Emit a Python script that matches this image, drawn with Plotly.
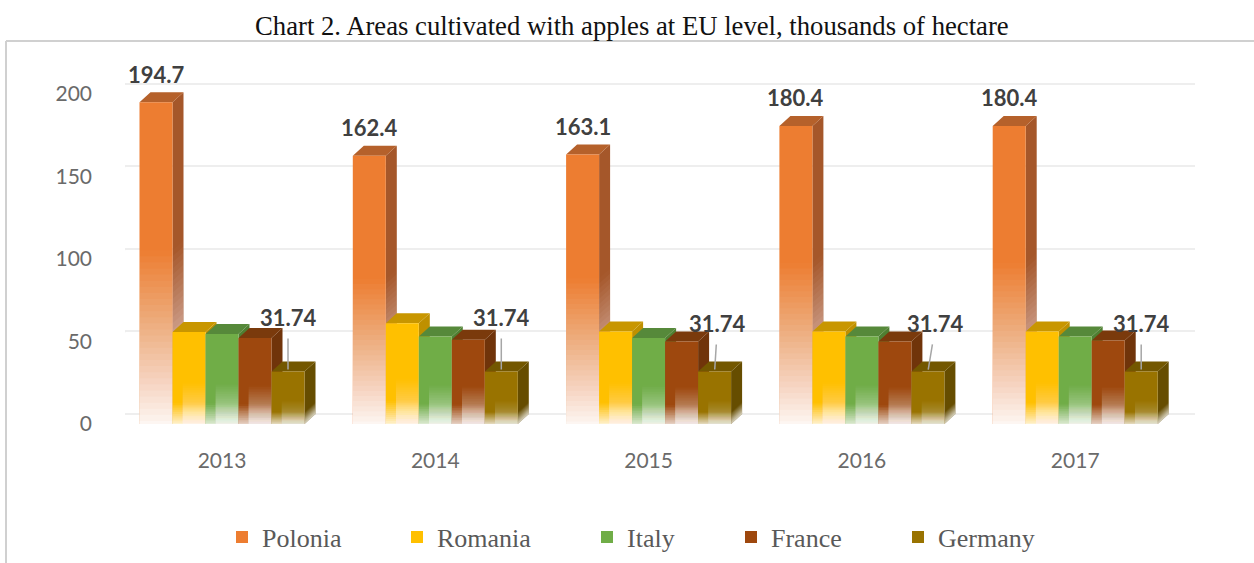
import plotly.graph_objects as go

years = ["2013", "2014", "2015", "2016", "2017"]
series = ["Polonia", "Romania", "Italy", "France", "Germany"]
polonia = [194.7, 162.4, 163.1, 180.4, 180.4]
romania = [55.7, 61.0, 56.0, 56.0, 56.0]
italy = [54.5, 53.0, 52.0, 53.0, 53.0]
france = [52.0, 51.0, 50.0, 50.0, 50.5]
germany = [31.74, 31.74, 31.74, 31.74, 31.74]
values = [polonia, romania, italy, france, germany]
y_ticks = [0, 50, 100, 150, 200]

front = ["#ED7D31", "#FFC000", "#70AD47", "#9E480E", "#997300"]
side = ["#A5572A", "#BF9000", "#4F7F32", "#70340A", "#664D00"]
top = ["#B5612B", "#C89600", "#56893A", "#7A3A0C", "#735700"]
outer_bottom = [0.96, 0.85, 0.8, 0.8, 0.8]
outer_height = [0.55, 0.24, 0.24, 0.24, 0.24]
inner_bottom = [0.0, 0.6, 0.65, 0.65, 0.45]
inner_height = [0.0, 0.46, 0.46, 0.46, 0.46]

# The canvas runs past the 563 px window so the legend has room below it.
W, H = 1254, 600
L, R, T, B = 125, 1195, 70, 424
PX_X = 213.3
PX_Y = 1.652
X_MIN = (L - 222) / PX_X
X_MAX = (R - 222) / PX_X
Y_MAX = (B - T) / PX_Y
DX = 11 / PX_X
DY = 10 / PX_Y
BW = 33 / PX_X
INSET = 10 / PX_X

fig = go.Figure()


def fade_levels(bottom, height):
    """Height fraction and white alpha of cumulative fade layers."""
    out = []
    prev = 0.0
    if height <= 0:
        return out
    levels = max(8, int(height * 54))
    for k in range(1, levels + 1):
        f = height * (1 - (k - 0.5) / levels)
        a = bottom * (1 - f / height)
        out.append((f, 1 - (1 - a) / (1 - prev)))
        prev = a
    return out


def poly(pts_list):
    xs, ys = [], []
    for pts in pts_list:
        xs += [p[0] for p in pts] + [pts[0][0], None]
        ys += [p[1] for p in pts] + [pts[0][1], None]
    return xs, ys


xs_idx = list(range(len(years)))

# slanted stubs joining the back gridlines to the front tick positions
stub_x, stub_y = [], []
for t in y_ticks:
    stub_x += [X_MIN - DX, X_MIN, None]
    stub_y += [t, t + DY, None]
fig.add_trace(go.Scatter(x=stub_x, y=stub_y, mode="lines", line=dict(color="#EEEEEE", width=2),
                         cliponaxis=False, showlegend=False, hoverinfo="skip"))

# depth faces: lower layer
for i, vals in enumerate(values):
    left = [g + (i - 2.5) * BW for g in xs_idx]
    right = [g + (i - 1.5) * BW for g in xs_idx]
    sx, sy = poly([[(r, 0), (r + DX, DY), (r + DX, v + DY), (r, v)] for r, v in zip(right, vals)])
    fig.add_trace(go.Scatter(x=sx, y=sy, mode="lines", fill="toself", fillcolor=side[i],
                             line=dict(width=0), showlegend=False, hoverinfo="skip"))
    for f, a in fade_levels(outer_bottom[i], outer_height[i]):
        sx, sy = poly([[(r, 0), (r + DX, DY), (r + DX, v * f + DY), (r, v * f)] for r, v in zip(right, vals)])
        fig.add_trace(go.Scatter(x=sx, y=sy, mode="lines", fill="toself",
                                 fillcolor=f"rgba(255,255,255,{a:.4f})",
                                 line=dict(width=0), showlegend=False, hoverinfo="skip"))
    tx, ty = poly([[(l, v), (r, v), (r + DX, v + DY), (l + DX, v + DY)]
                   for l, r, v in zip(left, right, vals)])
    fig.add_trace(go.Scatter(x=tx, y=ty, mode="lines", fill="toself", fillcolor=top[i],
                             line=dict(width=0), showlegend=False, hoverinfo="skip"))

# front faces: overlay layer
for i, vals in enumerate(values):
    off = (i - 2.5) * BW
    fig.add_trace(go.Bar(x=xs_idx, y=vals, name=series[i], width=BW, offset=off,
                         marker=dict(color=front[i], line=dict(width=0)),
                         xaxis="x2", yaxis="y2",
                         legend="legend" if i == 0 else f"legend{i + 1}"))
    for f, a in fade_levels(outer_bottom[i], outer_height[i]):
        fig.add_trace(go.Bar(x=xs_idx, y=[v * f for v in vals], width=BW, offset=off,
                             marker=dict(color=f"rgba(255,255,255,{a:.4f})", line=dict(width=0)),
                             xaxis="x2", yaxis="y2", showlegend=False, hoverinfo="skip"))
    for f, a in fade_levels(inner_bottom[i], inner_height[i]):
        fig.add_trace(go.Bar(x=xs_idx, y=[v * f for v in vals], width=BW - INSET, offset=off + INSET,
                             marker=dict(color=f"rgba(255,255,255,{a:.4f})", line=dict(width=0)),
                             xaxis="x2", yaxis="y2", showlegend=False, hoverinfo="skip"))

annotations = []
label_font = dict(family="Lato", size=22, color="#404040", weight="bold")
for g, v in zip(xs_idx, polonia):
    annotations.append(dict(x=g - 2 * BW, y=v, xref="x", yref="y", text=f"{v:.1f}", showarrow=False,
                            font=label_font, yshift=28, xanchor="center", yanchor="middle"))
leader_ax = [0, 0, 3, 8, 0]
leader_ay = [-54, -54, -48, -48, -48]
for g, v, ax, ay in zip(xs_idx, germany, leader_ax, leader_ay):
    annotations.append(dict(x=g + 2 * BW, y=v, xref="x", yref="y", text=f"{v:.2f}", showarrow=True,
                            arrowhead=0, arrowwidth=1.5, arrowcolor="#A6A6A6", ax=ax, ay=ay,
                            axref="pixel", ayref="pixel", font=label_font, startstandoff=6, standoff=2))
annotations.append(dict(xref="paper", yref="paper", x=(632 - L) / (R - L), y=(B - 26) / (B - T),
                        text="Chart 2. Areas cultivated with apples at EU level, thousands of hectare",
                        showarrow=False, xanchor="center", yanchor="middle",
                        font=dict(family="Liberation Serif", size=26.7, color="#111111")))

legend_text_x = [262, 437, 627, 771, 938]
legends = {}
for i, tx in enumerate(legend_text_x):
    legends["legend" if i == 0 else f"legend{i + 1}"] = dict(
        x=(tx - 40 - L) / (R - L), y=(B - 537) / (B - T),
        xanchor="left", yanchor="middle", bgcolor="rgba(0,0,0,0)", borderwidth=0,
        font=dict(family="Liberation Serif", size=26, color="#595959"))

axis_common = dict(showline=False, zeroline=False)
fig.update_layout(
    width=W, height=H, margin=dict(l=L, r=W - R, t=T, b=H - B),
    paper_bgcolor="white", plot_bgcolor="white", barmode="overlay",
    xaxis=dict(range=[X_MIN, X_MAX], showgrid=False, showticklabels=False, ticks="", **axis_common),
    yaxis=dict(range=[0, Y_MAX], tickmode="array", tickvals=[t + DY for t in y_ticks], showgrid=True,
               gridcolor="#EEEEEE", gridwidth=2, showticklabels=False, ticks="", **axis_common),
    xaxis2=dict(range=[X_MIN, X_MAX], overlaying="x", anchor="y2", showgrid=False, tickmode="array",
                tickvals=xs_idx, ticktext=years, ticks="", ticklabelstandoff=22,
                tickfont=dict(family="Lato", size=21, color="#6A6A6A"), **axis_common),
    yaxis2=dict(range=[0, Y_MAX], overlaying="y", anchor="x2", showgrid=False, tickmode="array",
                tickvals=y_ticks, ticks="", ticklabelstandoff=32,
                tickfont=dict(family="Lato", size=21, color="#6A6A6A"), **axis_common),
    annotations=annotations,
    shapes=[
        dict(type="line", xref="paper", yref="paper", x0=(6 - L) / (R - L), x1=(1254 - L) / (R - L),
             y0=(B - 41) / (B - T), y1=(B - 41) / (B - T), line=dict(color="#D0D0D0", width=2)),
        dict(type="line", xref="paper", yref="paper", x0=(6 - L) / (R - L), x1=(6 - L) / (R - L),
             y0=(B - 41) / (B - T), y1=(B - H) / (B - T), line=dict(color="#D0D0D0", width=2)),
    ],
    **legends,
)
fig.write_html("out.html", config=dict(displayModeBar=False),
               post_script="document.body.style.margin='0';document.body.style.overflow='hidden';"
                           "document.documentElement.style.overflow='hidden';")
